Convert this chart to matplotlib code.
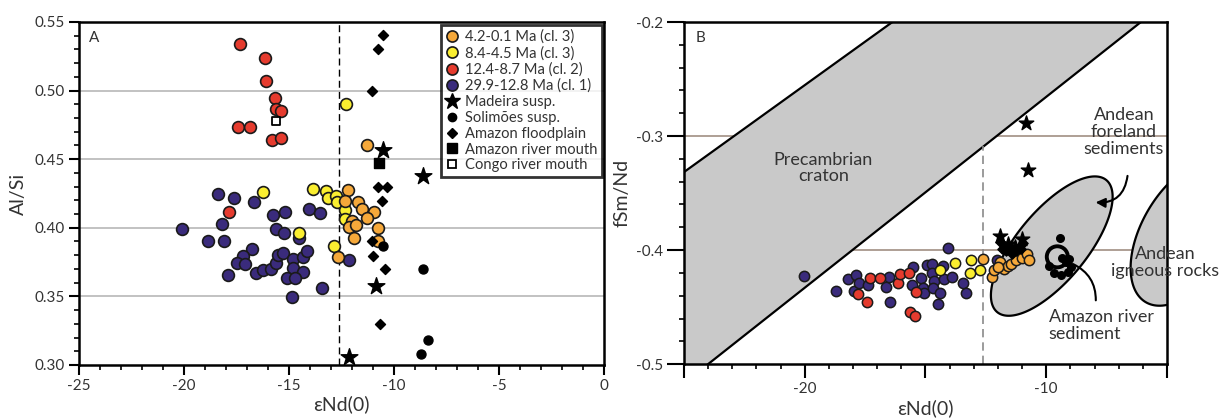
import numpy as np
import matplotlib

matplotlib.use("Agg")
import matplotlib.pyplot as plt
from matplotlib.lines import Line2D

plt.rcParams["font.family"] = ["Lato", "DejaVu Sans"]

# ---- panel A: Al/Si vs eNd(0) ----
orange_a_x = [-12.18, -12.33, -12.02, -12.13, -11.80, -11.90, -11.72, -11.50, -10.95, -11.27, -10.75, -10.78, -12.65, -11.27]
orange_a_y = [0.4275, 0.4198, 0.4050, 0.4008, 0.4020, 0.3923, 0.4185, 0.4140, 0.4117, 0.4072, 0.4000, 0.3900, 0.3789, 0.4604]
yellow_a_x = [-16.25, -14.52, -13.84, -13.24, -13.16, -12.76, -12.73, -12.32, -12.33, -12.86, -12.27]
yellow_a_y = [0.4263, 0.3964, 0.4280, 0.4270, 0.4215, 0.4232, 0.4190, 0.4128, 0.4062, 0.3867, 0.4900]
red_a_x = [-17.33, -16.14, -16.10, -15.67, -15.62, -15.38, -17.43, -16.86, -15.83, -15.38, -17.85]
red_a_y = [0.534, 0.524, 0.507, 0.4945, 0.4866, 0.485, 0.4735, 0.4735, 0.464, 0.4655, 0.4115]
purple_a_x = [-18.37, -17.60, -16.67, -18.21, -20.11, -18.84, -18.08, -16.75, -17.18, -17.46, -17.10, -17.89,
              -16.59, -16.22, -15.88, -15.62, -15.51, -15.27, -15.78, -15.19, -15.62, -15.22, -14.52, -14.79,
              -14.79, -14.32, -14.13, -14.35, -15.11, -14.69, -14.84, -13.45, -14.03, -13.52, -12.13]
purple_a_y = [0.4244, 0.4215, 0.4190, 0.4028, 0.3990, 0.3900, 0.3900, 0.3846, 0.3795, 0.3741, 0.3736, 0.3656,
              0.3673, 0.3692, 0.3697, 0.3746, 0.3802, 0.3814, 0.4093, 0.4117, 0.3990, 0.3964, 0.3923, 0.3770,
              0.3705, 0.3789, 0.3831, 0.3680, 0.3632, 0.3632, 0.3498, 0.3559, 0.4137, 0.4110, 0.3765]
madeira_a_x = [-10.54, -8.64, -10.86, -12.13]
madeira_a_y = [0.4567, 0.4378, 0.3576, 0.306]
solimoes_a_x = [-10.54, -8.64, -8.40, -8.73]
solimoes_a_y = [0.3867, 0.3697, 0.3182, 0.3078]
floodplain_a_x = [-10.54, -10.75, -11.06, -10.75, -10.32, -10.56, -11.06, -10.98, -10.43, -10.67]
floodplain_a_y = [0.5405, 0.530, 0.500, 0.430, 0.430, 0.4198, 0.390, 0.3795, 0.3697, 0.3297]
amazon_mouth_a_x = [-10.71]
amazon_mouth_a_y = [0.447]
congo_mouth_a_x = [-15.62]
congo_mouth_a_y = [0.478]
cutoff_end = -12.6
grid_a = [0.35, 0.40, 0.45, 0.50]

# ---- panel B: fSm/Nd vs eNd(0) ----
orange_b_x = [-12.61, -12.24, -12.15, -11.93, -11.74, -11.60, -11.47, -11.27, -10.99, -10.81, -10.72, -12.00]
orange_b_y = [-0.4082, -0.4234, -0.4175, -0.4103, -0.4170, -0.4140, -0.4123, -0.4088, -0.4073, -0.4035, -0.4088, -0.4145]
yellow_b_x = [-14.41, -13.76, -13.17, -13.10, -12.76]
yellow_b_y = [-0.4175, -0.4117, -0.4199, -0.4088, -0.4175]
red_b_x = [-17.81, -17.28, -17.42, -16.87, -16.15, -16.04, -15.69, -15.41, -15.62, -15.44]
red_b_y = [-0.4386, -0.4248, -0.4453, -0.4243, -0.4287, -0.4211, -0.4204, -0.4366, -0.4541, -0.4576]
purple_b_x = [-20.02, -18.69, -18.22, -17.86, -17.95, -17.77, -17.39, -16.62, -16.52, -16.48, -15.53, -15.55,
              -15.18, -15.10, -15.07, -14.93, -14.73, -14.73, -14.66, -14.70, -14.48, -14.38, -14.27, -14.24,
              -13.90, -13.44, -13.34, -14.07, -12.05]
purple_b_y = [-0.4228, -0.4357, -0.4257, -0.4219, -0.4357, -0.4292, -0.4307, -0.4322, -0.4240, -0.4453, -0.4146, -0.4307,
              -0.4248, -0.4336, -0.4374, -0.4132, -0.4123, -0.4204, -0.4269, -0.4336, -0.4474, -0.4380, -0.4140, -0.4257,
              -0.4240, -0.4287, -0.4380, -0.3985, -0.4088]
madeira_b_x = [-10.85, -10.74, -11.92, -10.99, -11.60, -11.30]
madeira_b_y = [-0.2889, -0.3298, -0.3877, -0.3906, -0.3950, -0.3970]
floodplain_b_x = [-11.85, -11.65, -11.45, -11.25, -11.05, -11.70, -11.40, -11.10, -11.90, -10.95]
floodplain_b_y = [-0.399, -0.401, -0.398, -0.401, -0.399, -0.396, -0.403, -0.396, -0.393, -0.394]
solimoes_b_x = [-9.43, -9.33, -9.19, -9.05, -9.68, -9.40, -9.10, -9.88, -8.98]
solimoes_b_y = [-0.3897, -0.4073, -0.4103, -0.4080, -0.4205, -0.4220, -0.4190, -0.4140, -0.4146]
river_sed_ring_x = [-9.54]
river_sed_ring_y = [-0.4059]
grid_b = [-0.3, -0.4]

# field outlines (eNd, fSm/Nd)
craton_x = [-25.0, -16.37, -6.08, -24.0, -25.0]
craton_y = [-0.3316, -0.2, -0.2, -0.5, -0.5]
# ellipses: centre x, centre y, semi-axes (eNd units), tilt (deg on screen)
foreland_ell = (-9.77, -0.3965, 3.55, 1.45, 50.5)
igneous_ell = (-4.21, -0.385, 3.32, 1.83, 60.0)
f_per_end = 24.1 / 1140.0  # screen aspect between the two axes of panel B

c_orange = "#f5a83a"
c_yellow = "#faee30"
c_red = "#e53b2e"
c_purple = "#3a2b7c"
c_grid = "#bdbdbd"
c_grid_b = "#a8978c"
c_field = "#c9c9c9"


def ellipse_xy(cx, cy, a, b, tilt):
    t = np.linspace(0, 2 * np.pi, 200)
    th = np.deg2rad(tilt)
    u = a * np.cos(t) * np.cos(th) - b * np.sin(t) * np.sin(th)
    v = a * np.cos(t) * np.sin(th) + b * np.sin(t) * np.cos(th)
    return cx + u, cy + v * f_per_end


def style_axis(ax):
    for sp in ax.spines.values():
        sp.set_linewidth(1.8)
        sp.set_color("black")
    ax.tick_params(which="major", direction="out", length=7, width=1.5, labelsize=11,
                   labelcolor="#333333", pad=3)
    ax.tick_params(which="minor", direction="out", length=3.5, width=1.2)


fig = plt.figure(figsize=(12.24, 4.19), dpi=100)
ax_a = fig.add_axes([0.0645, 0.129, 0.429, 0.8186])
ax_b = fig.add_axes([0.5588, 0.131, 0.3946, 0.8164])

# ---------- panel A ----------
ax = ax_a
for g in grid_a:
    ax.axhline(g, color=c_grid, lw=1.3, zorder=0)
ax.axvline(cutoff_end, color="black", lw=1, ls=(0, (5, 3)), zorder=1)
kw = dict(s=72, edgecolors="#1a1a1a", linewidths=1.2, zorder=3)
ax.scatter(purple_a_x, purple_a_y, c=c_purple, **kw)
ax.scatter(red_a_x, red_a_y, c=c_red, **kw)
ax.scatter(yellow_a_x, yellow_a_y, c=c_yellow, **kw)
ax.scatter(orange_a_x, orange_a_y, c=c_orange, **kw)
ax.scatter(madeira_a_x, madeira_a_y, marker="*", s=160, c="black", zorder=4)
ax.scatter(solimoes_a_x, solimoes_a_y, marker="o", s=42, c="black", zorder=4)
ax.scatter(floodplain_a_x, floodplain_a_y, marker="D", s=26, c="black", zorder=4)
ax.scatter(amazon_mouth_a_x, amazon_mouth_a_y, marker="s", s=50, c="black", zorder=4)
ax.scatter(congo_mouth_a_x, congo_mouth_a_y, marker="s", s=32, facecolors="white",
           edgecolors="black", linewidths=1.3, zorder=4)
ax.set_xlim(-25, 0)
ax.set_ylim(0.30, 0.55)
ax.set_xticks(np.arange(-25, 1, 5))
ax.set_xticks(np.arange(-25, 1, 1), minor=True)
ax.set_yticks(np.arange(0.30, 0.551, 0.05))
ax.set_yticks(np.arange(0.30, 0.551, 0.01), minor=True)
ax.set_yticklabels([f"{v:.2f}" for v in np.arange(0.30, 0.551, 0.05)])
ax.set_xticklabels([f"{v:d}" for v in range(-25, 1, 5)])
style_axis(ax)
ax.set_xlabel("εNd(0)", fontsize=14, color="#333333", labelpad=2)
ax.set_ylabel("Al/Si", fontsize=14, color="#333333", labelpad=6)
ax.text(0.02, 0.975, "A", transform=ax.transAxes, fontsize=11, va="top", color="#333333")

leg_handles = [
    Line2D([], [], ls="", marker="o", ms=8, mfc=c_orange, mec="#1a1a1a", mew=1.2, label="4.2-0.1 Ma (cl. 3)"),
    Line2D([], [], ls="", marker="o", ms=8, mfc=c_yellow, mec="#1a1a1a", mew=1.2, label="8.4-4.5 Ma (cl. 3)"),
    Line2D([], [], ls="", marker="o", ms=8, mfc=c_red, mec="#1a1a1a", mew=1.2, label="12.4-8.7 Ma (cl. 2)"),
    Line2D([], [], ls="", marker="o", ms=8, mfc=c_purple, mec="#1a1a1a", mew=1.2, label="29.9-12.8 Ma (cl. 1)"),
    Line2D([], [], ls="", marker="*", ms=12, color="black", label="Madeira susp."),
    Line2D([], [], ls="", marker="o", ms=6, color="black", label="Solimões susp."),
    Line2D([], [], ls="", marker="D", ms=5, color="black", label="Amazon floodplain"),
    Line2D([], [], ls="", marker="s", ms=7, color="black", label="Amazon river mouth"),
    Line2D([], [], ls="", marker="s", ms=6, mfc="white", mec="black", mew=1.3, label="Congo river mouth"),
]
leg = ax.legend(handles=leg_handles, loc="upper right", bbox_to_anchor=(0.996, 0.99),
                fontsize=10.6, frameon=True, fancybox=False, handlelength=0.8, handletextpad=0.5,
                labelspacing=0.13, borderpad=0.3, borderaxespad=0)
leg.get_frame().set_edgecolor("black")
leg.get_frame().set_linewidth(2.0)
for t in leg.get_texts():
    t.set_color("#333333")

# ---------- panel B ----------
ax = ax_b
for g in grid_b:
    ax.axhline(g, color=c_grid_b, lw=1.3, zorder=0)
ax.fill(craton_x, craton_y, color=c_field, lw=0, zorder=1)
ax.plot(craton_x[:2], craton_y[:2], color="black", lw=1.6, zorder=2)
ax.plot(craton_x[2:4], craton_y[2:4], color="black", lw=1.6, zorder=2)
for ell in (foreland_ell, igneous_ell):
    ex, ey = ellipse_xy(*ell)
    ax.fill(ex, ey, facecolor=c_field, edgecolor="black", lw=1.6, zorder=1)
# dashed cut-off stops at the craton boundary
slope = (craton_y[2] - craton_y[3]) / (craton_x[2] - craton_x[3])
y_top = craton_y[3] + slope * (cutoff_end - craton_x[3])
ax.plot([cutoff_end, cutoff_end], [-0.5, y_top], color="#8a8a8a", lw=1.2, ls=(0, (5, 3)), zorder=2)

kw = dict(s=55, edgecolors="#1a1a1a", linewidths=1.1, zorder=3)
ax.scatter(purple_b_x, purple_b_y, c=c_purple, **kw)
ax.scatter(red_b_x, red_b_y, c=c_red, **kw)
ax.scatter(yellow_b_x, yellow_b_y, c=c_yellow, **kw)
ax.scatter(orange_b_x, orange_b_y, c=c_orange, **kw)
ax.scatter(floodplain_b_x, floodplain_b_y, marker="D", s=22, c="black", zorder=4)
ax.scatter(madeira_b_x, madeira_b_y, marker="*", s=120, c="black", zorder=4)
ax.scatter(solimoes_b_x, solimoes_b_y, marker="o", s=30, c="black", zorder=4)
ax.scatter(river_sed_ring_x, river_sed_ring_y, marker="o", s=230, facecolors="none",
           edgecolors="black", linewidths=2.8, zorder=4)

ax.set_xlim(-25, -5)
ax.set_ylim(-0.5, -0.2)
ax.set_xticks(np.arange(-25, -4, 5))
ax.set_xticklabels(["", "-20", "", "-10", ""])
ax.set_xticks(np.arange(-25, -4, 1), minor=True)
ax.set_yticks([-0.5, -0.4, -0.3, -0.2])
ax.set_yticklabels(["-0.5", "-0.4", "-0.3", "-0.2"])
ax.set_yticks(np.arange(-0.5, -0.199, 0.02), minor=True)
style_axis(ax)
ax.tick_params(axis="x", which="major", length=10)
ax.tick_params(axis="y", which="major", length=12)
ax.set_xlabel("εNd(0)", fontsize=14, color="#333333", labelpad=2)
ax.set_ylabel("fSm/Nd", fontsize=14, color="#333333", labelpad=4)
ax.text(0.025, 0.975, "B", transform=ax.transAxes, fontsize=11, va="top", color="#333333")

lab = dict(fontsize=13, color="#333333", ha="center", va="center", linespacing=1.05, zorder=5)
ax.text(-19.23, -0.328, "Precambrian\ncraton", **lab)
ax.text(-6.78, -0.2965, "Andean\nforeland\nsediments", **lab)
ax.text(-5.08, -0.411, "Andean\nigneous rocks", clip_on=False, **lab)
ax.text(-9.9, -0.452, "Amazon river\nsediment", fontsize=13, color="#333333", ha="left", va="top",
        linespacing=1.05, zorder=5)
ax.annotate("", xy=(-8.07, -0.358), xytext=(-6.62, -0.3325),
            arrowprops=dict(arrowstyle="-|>", color="black", lw=1.5, mutation_scale=14,
                            connectionstyle="arc3,rad=-0.5"), zorder=5)
ax.annotate("", xy=(-8.98, -0.4114), xytext=(-7.95, -0.4465),
            arrowprops=dict(arrowstyle="-", color="black", lw=1.5,
                            connectionstyle="arc3,rad=0.35"), zorder=5)

fig.savefig("out.png", dpi=100)
